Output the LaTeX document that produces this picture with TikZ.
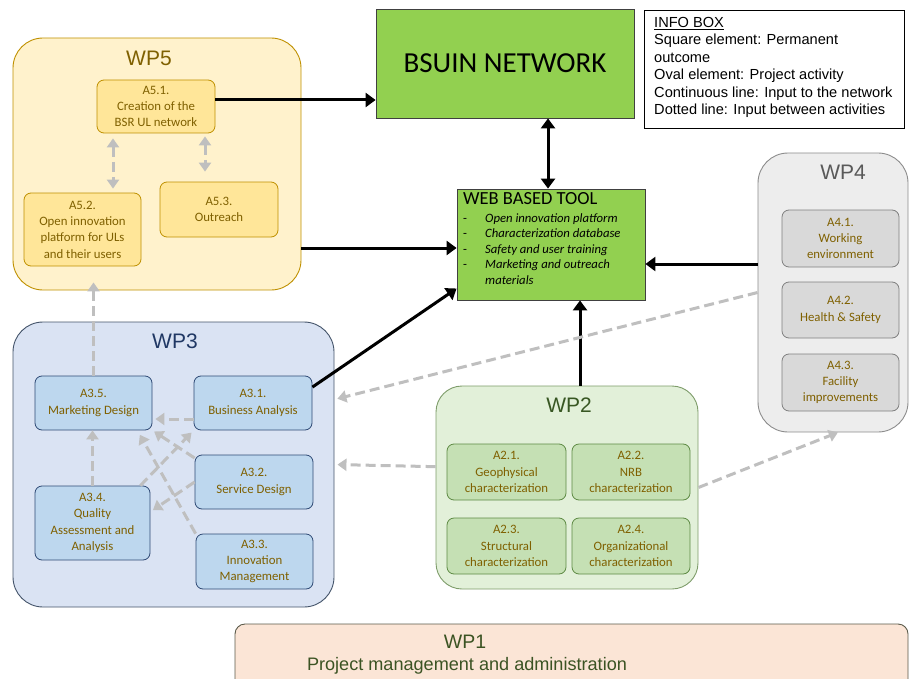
\documentclass[tikz,border=0pt]{standalone}
\usepackage{fontspec}
\setmainfont{Liberation Sans}
\newfontfamily\calfont{Carlito}
\usetikzlibrary{arrows.meta,calc}
\definecolor{wpfive}{HTML}{FFF2CC}
\definecolor{wpfived}{HTML}{BF9000}
\definecolor{afive}{HTML}{FFE699}
\definecolor{wpthree}{HTML}{DAE3F3}
\definecolor{wpthreed}{HTML}{44546A}
\definecolor{athree}{HTML}{BDD7EE}
\definecolor{athreed}{HTML}{2F4A75}
\definecolor{wpfour}{HTML}{EDEDED}
\definecolor{wpfourd}{HTML}{8C8C8C}
\definecolor{afour}{HTML}{D9D9D9}
\definecolor{afourd}{HTML}{7F7F7F}
\definecolor{wptwo}{HTML}{E2F0D9}
\definecolor{wptwod}{HTML}{7E9C6A}
\definecolor{atwo}{HTML}{C5E0B4}
\definecolor{atwod}{HTML}{5E8A44}
\definecolor{wpone}{HTML}{FBE5D6}
\definecolor{wponed}{HTML}{5A5A4A}
\definecolor{lgreen}{HTML}{92D050}
\definecolor{acttext}{HTML}{7F6000}
\definecolor{garrow}{HTML}{BFBFBF}
\definecolor{tfive}{HTML}{7F6000}
\definecolor{tthree}{HTML}{203864}
\definecolor{tfour}{HTML}{595959}
\definecolor{ttwo}{HTML}{385723}
\definecolor{tone}{HTML}{3B5323}
\begin{document}
\begin{tikzpicture}[x=1pt,y=-1pt,
  wpbox/.style={draw, line width=0.9pt, rounded corners=30pt, inner sep=0pt},
  wptitle/.style={font=\fontsize{21}{24}\selectfont, inner sep=0pt},
  act/.style={draw, rounded corners=7pt, line width=0.8pt, align=center,
    font=\calfont\fontsize{12.8}{16.3}\selectfont, text=acttext, inner sep=1pt},
  act5/.style={act, fill=afive, draw=wpfived},
  act3/.style={act, fill=athree, draw=athreed},
  act4/.style={act, fill=afour, draw=afourd},
  act2/.style={act, fill=atwo, draw=atwod},
  outc/.style={draw=black!75, line width=0.8pt, fill=lgreen, inner sep=0pt},
  blk/.style={line width=3pt, -{Triangle[width=14pt,length=10pt]}},
  blkk/.style={line width=3pt, {Triangle[width=14pt,length=10pt]}-{Triangle[width=14pt,length=10pt]}},
  gra/.style={draw=garrow, line width=3pt, dash pattern=on 10pt off 5pt, -{Triangle[width=12pt,length=9pt]}},
  graa/.style={draw=garrow, line width=3pt, dash pattern=on 10pt off 5pt, {Triangle[width=12pt,length=9pt]}-{Triangle[width=12pt,length=9pt]}}
]
\useasboundingbox (0,0) rectangle (909,679);
\clip (0,0) rectangle (909,679);

% WP5
\node[wpbox, fill=wpfive, draw=wpfived, minimum width=288pt, minimum height=252pt] (wp5) at (157,164) {};
\node[wptitle, text=tfive] (wp5t) at (149,58) {WP5};
\node[act5, minimum width=118pt, minimum height=53pt] (a51) at (156,106.5) {A5.1.\\Creation of the\\BSR UL network};
\node[act5, minimum width=117pt, minimum height=73pt] (a52) at (82.5,229.5) {A5.2.\\Open innovation\\platform for ULs\\and their users};
\node[act5, minimum width=118pt, minimum height=55pt] (a53) at (219,209.5) {A5.3.\\Outreach};

% BSUIN network
\node[outc, minimum width=258pt, minimum height=109pt, font=\calfont\fontsize{29}{32}\selectfont] (bsuin) at (505,63.5) {BSUIN NETWORK};

% Info box
\node[draw=black, line width=0.8pt, fill=white, minimum width=260pt, minimum height=118pt, inner sep=0pt] (info) at (774.5,69) {};
\node[anchor=north west, align=left, inner sep=0pt, font=\fontsize{14.6}{17.5}\selectfont] (infotext) at (654,17)
 {\underline{INFO BOX}\\Square element: Permanent\\outcome\\Oval element: Project activity\\Continuous line: Input to the network\\Dotted line: Input between activities};

% Web based tool
\node[outc, minimum width=188pt, minimum height=111pt] (web) at (551,244.5) {};
\node[anchor=north west, inner sep=0pt, font=\calfont\fontsize{18.5}{20}\selectfont] (webtitle) at (463,192) {WEB BASED TOOL};
\node[anchor=north west, inner sep=0pt, align=left, font=\calfont\fontsize{12.7}{16}\selectfont] (weblist) at (463,211)
 {\begin{tabular}{@{}p{22pt}@{}l@{}}
 - & \textit{Open innovation platform}\\[-0.5pt]
 - & \textit{Characterization database}\\[-0.5pt]
 - & \textit{Safety and user training}\\[-0.5pt]
 - & \textit{Marketing and outreach}\\[-0.5pt]
   & \textit{materials}
 \end{tabular}};

% WP4
\node[wpbox, fill=wpfour, draw=wpfourd, minimum width=150pt, minimum height=279pt] (wp4) at (833,292.5) {};
\node[wptitle, text=tfour] (wp4t) at (843,172) {WP4};
\node[act4, minimum width=117pt, minimum height=57pt] (a41) at (840.5,238.5) {A4.1.\\Working\\environment};
\node[act4, minimum width=117pt, minimum height=56pt] (a42) at (840.5,310) {A4.2.\\Health \& Safety};
\node[act4, minimum width=117pt, minimum height=57pt] (a43) at (840.5,382.5) {A4.3.\\Facility\\improvements};

% WP3
\node[wpbox, fill=wpthree, draw=wpthreed, minimum width=321pt, minimum height=285pt] (wp3) at (173.5,464.5) {};
\node[wptitle, text=tthree] (wp3t) at (175,341) {WP3};
\node[act3, minimum width=117pt, minimum height=54pt] (a35) at (93.5,403) {A3.5.\\Marketing Design};
\node[act3, minimum width=118pt, minimum height=54pt] (a31) at (253,403) {A3.1.\\Business Analysis};
\node[act3, minimum width=118pt, minimum height=54pt] (a32) at (254,482) {A3.2.\\Service Design};
\node[act3, minimum width=115pt, minimum height=74pt] (a34) at (92.5,523) {A3.4.\\Quality\\Assessment and\\Analysis};
\node[act3, minimum width=117pt, minimum height=55pt] (a33) at (254.5,561.5) {A3.3.\\Innovation\\Management};

% WP2
\node[wpbox, rounded corners=26pt, fill=wptwo, draw=wptwod, minimum width=262pt, minimum height=203pt] (wp2) at (567,487.5) {};
\node[wptitle, text=ttwo] (wp2t) at (569,405) {WP2};
\node[act2, minimum width=119pt, minimum height=56pt] (a21) at (506.5,472) {A2.1.\\Geophysical\\characterization};
\node[act2, minimum width=118pt, minimum height=56pt] (a22) at (631,472) {A2.2.\\NRB\\characterization};
\node[act2, minimum width=119pt, minimum height=56pt] (a23) at (506.5,546) {A2.3.\\Structural\\characterization};
\node[act2, minimum width=118pt, minimum height=56pt] (a24) at (631,546) {A2.4.\\Organizational\\characterization};

% WP1
\node[draw=wponed, line width=0.9pt, rounded corners=10pt, fill=wpone, minimum width=673pt, minimum height=90pt, inner sep=0pt] (wp1) at (571.5,669) {};
\node[inner sep=0pt, text=tone, font=\fontsize{19.5}{22}\selectfont] (wp1t) at (465,642) {WP1};
\node[inner sep=0pt, text=tone, font=\fontsize{18.1}{20}\selectfont] (wp1s) at (467,666) {Project management and administration};

% helper coordinates
\coordinate (h100) at (0,100);
\coordinate (h248) at (0,248);
\coordinate (h264) at (0,264);
\coordinate (h419) at (0,419);
\coordinate (v548) at (548,0);
\coordinate (v580) at (580,0);
\coordinate (v113) at (113,0);
\coordinate (v205) at (205,0);

% black connectors
\draw[blk] (a51.east |- h100) -- (bsuin.west |- h100);
\draw[blkk] (bsuin.south -| v548) -- (web.north -| v548);
\draw[blk] (wp5.east |- h248) -- (web.west |- h248);
\draw[blk] (a31.15) -- (web.205);
\draw[blk] (wp2.north -| v580) -- (web.south -| v580);
\draw[blk] (wp4.west |- h264) -- (web.east |- h264);

% grey dashed connectors
\draw[gra, shorten >=-8pt] (a35.north) -- (wp5.south -| a35.north);
\draw[graa, shorten <=5pt, shorten >=4pt] (a51.south -| v113) -- (a52.north -| v113);
\draw[graa, shorten <=3pt, shorten >=10pt] (a51.south -| v205) -- (a53.north -| v205);
\draw[gra, shorten >=3pt] (a31.west |- h419) -- (a35.east |- h419);
\draw[gra] (a34.north) -- (a34.north |- a35.south);
\draw[gra, shorten >=5pt] (a33.north west) -- (a35.-32);
\draw[gra, shorten >=2pt] (a32.158) -- (a35.south east);
\draw[gra, shorten >=3pt] (a34.38) -- (a31.south west);
\draw[gra, shorten >=3pt] (a32.west) -- (a34.11);
\draw[gra, shorten >=3pt] (wp4.west) -- (wp3.22.5);
\draw[gra, shorten >=3pt] (wp2.171.5) -- (wp3.east);
\draw[gra] (wp2.east) -- (wp4.-88);
\end{tikzpicture}
\end{document}
